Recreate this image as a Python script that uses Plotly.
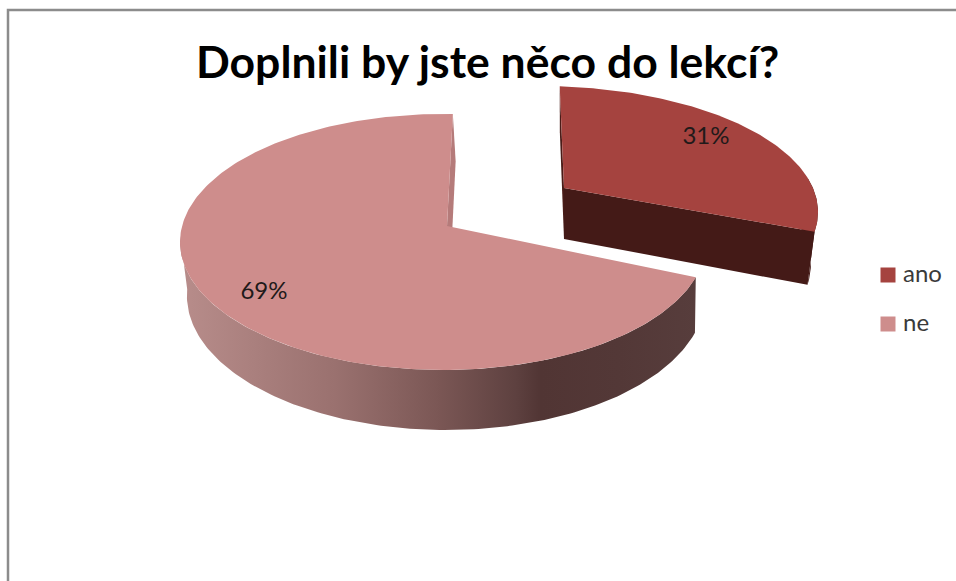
import numpy as np
import plotly.graph_objects as go

# Survey answers
categories = ["ano", "ne"]
values = [31, 69]
title_text = "Doplnili by jste něco do lekcí?"
face_colors = ["#a5433f", "#ce8d8c"]

W, H = 956, 581

# Perspective set-up of each slice: outline ellipse, image of the pie centre,
# starting rotation, and how the lower rim is derived from the upper one.
views = {
    "ano": dict(cx=540, cy=212, rx=278, ry=126, apex=(564, 188), rot=-0.6, vx=564, k=0.972),
    "ne": dict(cx=443, cy=242, rx=263, ry=128, apex=(447, 226), rot=1.5, vx=640, k=0.985),
}


def project(theta_deg, view):
    """Map a clockwise-from-top pie angle onto the tilted disc (homography of the unit disc)."""
    t = np.radians(np.asarray(theta_deg, dtype=float) + view["rot"])
    px, py = np.sin(t), -np.cos(t)
    ax = (view["apex"][0] - view["cx"]) / view["rx"]
    ay = (view["apex"][1] - view["cy"]) / view["ry"]
    a2 = ax * ax + ay * ay
    dot = ax * px + ay * py
    s = np.sqrt(1 - a2)
    par_x, par_y = dot / a2 * ax, dot / a2 * ay
    qx = (par_x + ax + s * (px - par_x)) / (1 + dot)
    qy = (par_y + ay + s * (py - par_y)) / (1 + dot)
    return view["cx"] + view["rx"] * qx, view["cy"] + view["ry"] * qy


def lower(x, y, view):
    """Drop rim points by the pie thickness, converging slightly with distance."""
    x = np.asarray(x, dtype=float)
    y = np.asarray(y, dtype=float)
    return view["vx"] + (x - view["vx"]) * view["k"], 1.05 * y + 41.5


def poly(x, y, **kw):
    return go.Scatter(
        x=list(x), y=list(y), mode="lines", fill="toself", line=dict(width=0),
        hoverinfo="skip", showlegend=False, **kw
    )


# Slice angles follow from the values
total = sum(values)
spans = {c: v / total * 360 for c, v in zip(categories, values)}
ano_start, ano_end = 0.0, spans["ano"]
ne_start, ne_end = ano_end, ano_end + spans["ne"]

fig = go.Figure()

# ---- "ne" slice ----
view = views["ne"]
ax0, ay0 = view["apex"]
far_x, far_y = project(ne_end, view)
# inner face, mostly hidden behind the top
fx_b, fy_b = lower(far_x, far_y, view)
ax_b, ay_b = lower(ax0, ay0, view)
fig.add_trace(poly([far_x, fx_b, ax_b, ax0, far_x], [far_y, fy_b, ay_b, ay0, far_y], fillcolor="#b57b7a"))
# outer curved wall with its sideways shading
th = np.linspace(ne_start, 264, 160)
tx, ty = project(th, view)
bx, by = lower(tx, ty, view)
fig.add_trace(go.Scatter(
    x=np.r_[tx, bx[::-1], tx[0]], y=np.r_[ty, by[::-1], ty[0]],
    mode="lines", fill="toself", line=dict(width=0), hoverinfo="skip", showlegend=False,
    fillgradient=dict(
        type="horizontal",
        colorscale=[
            [0.0, "#b88d8b"], [0.3, "#9a716f"], [0.5, "#7b5755"],
            [0.65, "#5e4140"], [0.70, "#513534"], [0.85, "#533837"], [1.0, "#573d3c"],
        ],
    ),
))
# top face
th = np.linspace(ne_start, ne_end, 240)
tx, ty = project(th, view)
fig.add_trace(poly(np.r_[ax0, tx, ax0], np.r_[ay0, ty, ay0], fillcolor=face_colors[1]))

# ---- "ano" slice, pulled out of the pie ----
view = views["ano"]
ax0, ay0 = view["apex"]
far_x, far_y = project(ano_start, view)
fx_b, fy_b = lower(far_x, far_y, view)
ax_b, ay_b = lower(ax0, ay0, view)
fig.add_trace(poly([far_x, fx_b, ax_b, ax0, far_x], [far_y, fy_b, ay_b, ay0, far_y], fillcolor="#4a1c18"))
# curved wall
th = np.linspace(85, ano_end, 40)
tx, ty = project(th, view)
bx, by = lower(tx, ty, view)
fig.add_trace(poly(np.r_[tx, bx[::-1], tx[0]], np.r_[ty, by[::-1], ty[0]], fillcolor="#431916"))
# cut face towards the viewer
ex, ey = project(ano_end, view)
ex_b, ey_b = lower(ex, ey, view)
fig.add_trace(poly([ax0, ex, ex_b, ax_b, ax0], [ay0, ey, ey_b, ay_b, ay0], fillcolor="#441a17"))
# top face
th = np.linspace(ano_start, ano_end, 120)
tx, ty = project(th, view)
fig.add_trace(poly(np.r_[ax0, tx, ax0], np.r_[ay0, ty, ay0], fillcolor=face_colors[0]))

# Percentage labels
label_pos = {"ano": (706, 138), "ne": (264, 293)}
for c, v in zip(categories, values):
    lx, ly = label_pos[c]
    fig.add_trace(go.Scatter(
        x=[lx], y=[ly], mode="text", text=[f"{v}%"], hoverinfo="skip", showlegend=False,
        textposition="middle center", textfont=dict(family="Lato", size=24, color="#1f1a1a"),
    ))

# Legend keys
legend_y = {"ano": 275, "ne": 324}
for c, col in zip(categories, face_colors):
    fig.add_trace(go.Scatter(
        x=[888], y=[legend_y[c]], mode="markers", hoverinfo="skip", showlegend=False,
        marker=dict(symbol="square", size=15, color=col, line=dict(width=0)),
    ))
    fig.add_trace(go.Scatter(
        x=[903], y=[legend_y[c] + 1], mode="text", text=[c], hoverinfo="skip", showlegend=False,
        textposition="middle right", textfont=dict(family="Lato", size=24, color="#3a3a3a"),
    ))

fig.update_layout(
    width=W, height=H, autosize=False,
    margin=dict(l=0, r=0, t=0, b=0),
    paper_bgcolor="white", plot_bgcolor="white",
    showlegend=False,
    xaxis=dict(range=[0, W], visible=False, fixedrange=True),
    yaxis=dict(range=[H, 0], visible=False, fixedrange=True),
    annotations=[dict(
        x=487.5, y=60, xref="x", yref="y", text=f"<b>{title_text}</b>", showarrow=False,
        font=dict(family="Lato", size=44.5, color="#000000"), xanchor="center", yanchor="middle",
    )],
    shapes=[
        # chart frame, open towards the page edges
        dict(type="path", xref="x", yref="y", path="M 8 581 L 8 10 L 956 10",
             line=dict(color="#8c8c8c", width=2.5), layer="below"),
    ],
)

fig.write_html("out.html", config=dict(displayModeBar=False))
